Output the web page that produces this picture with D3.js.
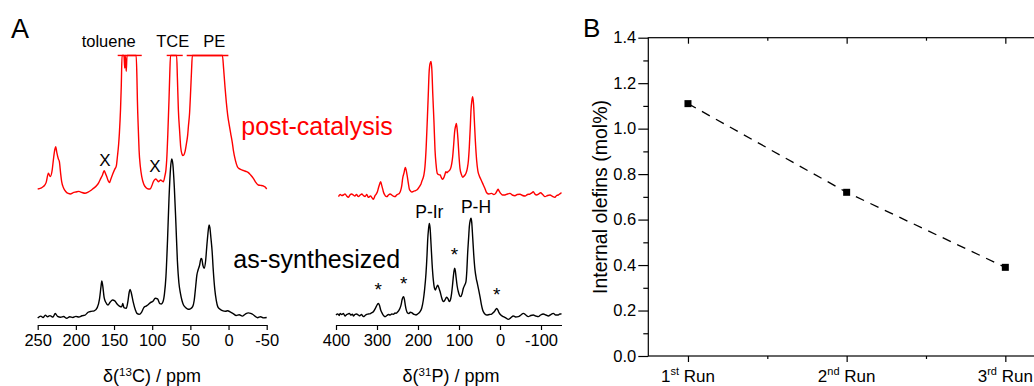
<!DOCTYPE html>
<html>
<head>
<meta charset="utf-8">
<script src="https://cdn.jsdelivr.net/npm/d3@7/dist/d3.min.js"></script>
<style>
  body { margin: 0; background: #fff; }
  svg { display: block; }
  text { font-family: "Liberation Sans", Arial, sans-serif; fill: #000; }
</style>
</head>
<body>
<svg id="chart" width="1034" height="386"></svg>
<script>
// ---- data: [ppm, intensity] ----
const c13AsSynth = [
  [250,0],[246,1.2],[243,0.3],[240,1.8],[237,0.8],[234,1.5],[230,0.6],[227,2.8],[224,1.0],[220,0.5],
  [216,0.9],[212,-0.2],[208,0.8],[204,0.3],[200,1.0],[196,0.6],[192,1.4],[188,1.8],[184,3.6],[180,4.2],
  [176,4.5],[172,6.5],[169,12],[167,20],[166,23.3],[165,21],[163,13],[161,10],[158,8.2],[155,10],
  [152,11.3],[149,10.8],[146,8.8],[143,7.5],[140,7],[138.5,9.2],[137,6.5],[134,6.1],[132,10],[130,16.5],
  [129,18],[127.5,16],[125,10.3],[122,5],[120,2.9],[117,2.3],[114,3.5],[111,6.5],[108,7.5],[105,8.5],
  [102,9.8],[99,10.5],[96,12.4],[93,12],[90,9],[88,8.8],[86,10],[84,15],[82,26],[80,48],
  [78,75],[76,94],[74.5,100],[73,97],[71,82],[69,60],[67,36],[65,22],[63,15.5],[61,11],
  [59,8.2],[56,6.5],[53,5.5],[50,5.8],[47,7.1],[45,11],[43,20],[41.5,27],[40,30],[38,33],
  [36,37.5],[35,37],[33.5,33],[32,31.2],[30,36],[28.5,45],[27,53],[25.5,58.5],[24.5,57],[23,50],
  [21.5,42],[20,30],[18,18],[16,11],[14,7],[11,5.5],[8,4.6],[4,4.2],[1,4.6],[-2,3.8],
  [-6,2.8],[-10,1.6],[-14,2.0],[-18,1.2],[-22,2.5],[-26,3.2],[-29,2.9],[-32,2.2],[-35,1.0],[-38,0.2],
  [-42,0.8],[-46,0.1],[-50,0.3]
];

const c13PostCat = [
  [250,0],[246,0.5],[242.6,1.5],[239,4],[236,9.9],[233.5,7.8],[231,12],[229.5,18.2],[227.5,25],[226.4,26.6],
  [225,23],[223,19],[221.6,17.2],[220,10],[218.6,4.6],[216,0.5],[213,-1.7],[210,-2.8],[207,-3.1],[204,-2.4],
  [200,-1.9],[196,-1.5],[192,-2.2],[188,-2.7],[184,-2.0],[180,-0.8],[177,0.4],[173,2],[170,4],[167.5,6.5],
  [165,9],[163,11.5],[161,9.5],[159.6,7.8],[157.5,5],[156,4],[154,6.5],[151.7,9.4],[149,12.5],[147,14.5],
  [145.6,20.3],[144,28],[143,35],[141.5,50],[140.5,65],[139.5,84],[137,84],[136,76],[135.3,84],[134,74],
  [133,84],[121,84],[120,70],[119.4,56],[118,35],[117.2,24.5],[115.5,14],[113.7,7.8],[111,3],[108,0.8],
  [105,0],[102.8,0],[100.5,2],[98.5,4.6],[96.5,6],[95.4,6.3],[93.5,5.5],[92,4.6],[90,5.3],[89,5.7],
  [87,5],[85.4,4.6],[83.5,8],[82,12],[81,18.2],[79.5,35],[78,56],[77,72],[76,84],[68,84],
  [67,70],[65.7,49.7],[64,36],[62.7,26.6],[61,22],[60,21],[58.5,21.5],[57,23.5],[55,29],[53.5,34],
  [52.6,39.2],[51,48],[49.6,62],[48.5,74],[47.4,84],[8,84],[6.5,76],[4.6,64],[3,55],[1.1,46.5],
  [-1,40],[-2.8,35],[-5,29],[-6.3,24.5],[-9,18],[-11.6,14],[-14,12.8],[-17.2,12],[-20,11.5],[-23,11],
  [-26,10.3],[-29,8.8],[-32.5,6.7],[-36,4],[-39,2.5],[-42,2.3],[-45.6,1.9],[-48,1.2],[-50,0]
];

const p31AsSynth = [
  [400,0],[396,1.2],[392,-0.5],[390,1.7],[386,0.5],[382,1.5],[378,-1],[374,0.5],[370,1.2],[367.5,1.7],
  [364,0],[360,0.8],[357.7,-1],[354,0.5],[350,1],[345.5,0],[342,-0.8],[338,0.5],[333,-1.7],[329,-0.5],
  [325,0.7],[321,1],[316,1.5],[312,2.5],[309,3.4],[305,6],[302,8.6],[299,11],[296.7,12],[294,10],
  [291,5.2],[287,1.5],[283,-1],[280.5,-1.7],[276,-0.5],[272,0.5],[268,0],[264,1],[260,0.8],[256,2],
  [253.7,1.7],[250,3],[247,4.5],[244,6.9],[241,11],[239,15.5],[236.5,18.5],[235,19],[233,16],[231,10.3],
  [228.5,5],[226,2.4],[222,1.5],[219,2.8],[215.4,2.4],[211,1],[208,0.5],[205,0],[201,1],[198,2],
  [195,3.4],[191,7],[187,15.5],[184,26],[180.5,43],[178,62],[176.4,77.6],[174.5,88],[172.4,94.8],[170.5,90],
  [168.3,74],[165.5,52],[162.6,36],[160,28],[157.7,25.9],[155,28.5],[152,30.7],[149,28],[146,24],[143,19],
  [140,15],[138,13.8],[135,15],[132.5,17],[130,18.3],[127,17],[123.6,13.8],[121,15.5],[118,22.4],[116,30],
  [113.8,39.7],[112,46],[110.6,48.3],[109,46],[107.3,39.7],[104.5,30],[101.6,24],[99,20.5],[96,19],[92.5,22],
  [89.4,27.6],[86,31],[83,34.5],[81,45],[78.9,63.8],[76.5,80],[74.8,91.4],[72.5,98],[70.7,100],[69,96],
  [66.7,81],[64,62],[61,46.6],[58,38],[55.3,32.8],[52,26],[48.8,19],[45.5,11],[42.3,5.2],[38,1.5],
  [32.5,0],[26,0.5],[20.3,1],[16,2.5],[12.2,4.5],[8.1,6.9],[5,5],[2.4,2.4],[-2,0],[-8.1,-1.7],
  [-14,-3],[-20.3,-4.5],[-26,-3],[-32.5,-1],[-38,-2],[-44.7,-1.7],[-51,0],[-57,1.7],[-63,0],[-69,-1.7],
  [-75,-0.5],[-81.3,0],[-87,-1],[-93.5,-1.7],[-99,0],[-105.7,1],[-112,0],[-118,-1],[-124,0.5],[-130,1.7],
  [-136,0],[-142,0],[-146,1.2],[-150,1]
];

const p31PostCat = [
  [394,-1.7],[390,0.5],[386,-0.5],[382,0],[378,1.2],[374,-1],[370,-2.4],[366,0],[362,1],[357.7,0],
  [354,-1],[350,0.5],[345.5,-1.7],[341,0],[337,1],[333,-0.7],[329,-1.5],[325,0.5],[321,-2.4],[316,-1],
  [312,-3],[309,-4.5],[305,-1],[302,1],[299,3.4],[296,8],[293,12],[291,13.8],[288.5,10],[286,6],
  [284.5,3.4],[281,0],[278,-1.5],[276,-1.7],[272,0],[268,1],[264,0],[260,-1.2],[256,-1.7],[252,0],
  [248,1],[245.5,1.7],[242,5],[239.5,10],[237.4,17.2],[234,23],[231,28.6],[229,26],[226,19],[223.5,12],
  [221,5.9],[218,4],[215,3],[213,3.4],[210,4],[206,4.5],[203,5.2],[200,6.5],[196,9],[193,11],
  [191,13.8],[188,17],[185.5,21],[183,29.3],[180,50],[177,81],[175,103],[173,126],[170.5,136],[168,138],
  [166,128],[164,105],[161,75],[158.5,46.6],[156,32],[153,22.4],[149.5,21],[146,20.7],[143,18],[140,16.2],
  [137,18],[134.5,21],[132,24],[129,23],[126,24.5],[123.6,25.2],[120,28],[117.5,33],[115.4,39.7],[113,52],
  [110.6,65.5],[108.5,71],[106.5,74],[104.5,68],[102.4,57],[100,40],[97.6,27.6],[94,21],[91,18.3],[88,19.5],
  [85.4,20.7],[82.5,23],[79.7,27.6],[77,36],[74.8,50],[72.5,70],[70.7,88],[68.5,98],[66.7,101.7],[64.5,94],
  [62.6,77.6],[60,55],[57,36],[54,25],[50.4,19.7],[46.5,16],[42.3,12],[37,7],[32.5,2.4],[27,1],
  [20.3,1.7],[15,0.5],[10.6,1.7],[7.5,4],[4.9,5.9],[2,4],[-1.6,1.7],[-6,0],[-12,0],[-18,1],
  [-24.4,1.7],[-30,0],[-36.6,-0.7],[-42,0.5],[-48.8,0.7],[-55,-0.5],[-61,-1],[-67,0.5],[-73,1],[-77,2],
  [-81.3,3.4],[-85,1],[-89.4,0],[-94,1],[-99,2.4],[-104,0.5],[-109.8,-1.7],[-116,-0.5],[-122,0],[-128,-1.5],
  [-134,-2.4],[-138,-0.5],[-142,0],[-146,1.2],[-150,2.4]
];

// clipped (off-scale) regions of the post-catalysis 13C trace
const c13ClipLabels = ["toluene", "TCE", "PE"];
const c13ClipRanges = [[145.2, 113.7], [81, 60], [54.8, 0.2]];
const c13ClipLevel = 84;

const c13Ticks = [250, 200, 150, 100, 50, 0, -50];
const p31Ticks = [400, 300, 200, 100, 0, -100];

// spinning sidebands (*) on the as-synthesized 31P trace
const p31Sidebands = [[297, 12], [235, 19], [111, 48.3], [8, 6.9]];
const p31PeakLabels = ["P-Ir", "P-H"];
const p31PeakPos = [[172.4, 94.8], [70.7, 100]];

// panel B
const runNums = ["1", "2", "3"];
const runSuffix = ["st", "nd", "rd"];
const olefins = [1.11, 0.72, 0.39];
const olefinTicks = [0, 0.2, 0.4, 0.6, 0.8, 1.0, 1.2, 1.4];

const FONT = '"Liberation Sans", Arial, sans-serif';
const svg = d3.select("#chart");

// ---------- panel A, 13C ----------
const xC = d3.scaleLinear().domain([250, -50]).range([37.7, 266.7]);
const yCAs = d3.scaleLinear().domain([0, 100]).range([318, 159]);
const yCPost = d3.scaleLinear().domain([0, 100]).range([189, 30]);

// ---------- panel A, 31P ----------
const xP = d3.scaleLinear().domain([400, -150]).range([336, 561.5]);
const yPAs = d3.scaleLinear().domain([0, 100]).range([315, 218.3]);
const yPPost = d3.scaleLinear().domain([0, 100]).range([195, 98.3]);

function trace(data, x, y, color) {
  const line = d3.line()
    .x(d => x(d[0]))
    .y(d => y(d[1]))
    .curve(d3.curveMonotoneX);
  svg.append("path")
    .datum(data)
    .attr("d", line)
    .attr("fill", "none")
    .attr("stroke", color)
    .attr("stroke-width", 1.4)
    .attr("stroke-linejoin", "round");
}

trace(c13PostCat, xC, yCPost, "#ff0000");
trace(c13AsSynth, xC, yCAs, "#000");
trace(p31PostCat, xP, yPPost, "#ff0000");
trace(p31AsSynth, xP, yPAs, "#000");

// clip bars + labels
c13ClipRanges.forEach(r => {
  svg.append("line")
    .attr("x1", xC(r[0])).attr("x2", xC(r[1]))
    .attr("y1", yCPost(c13ClipLevel)).attr("y2", yCPost(c13ClipLevel))
    .attr("stroke", "#ff0000").attr("stroke-width", 1.4);
});
const clipLabelX = [108.7, 172.7, 214.3];
c13ClipLabels.forEach((lab, i) => {
  svg.append("text").attr("x", clipLabelX[i]).attr("y", 47).attr("text-anchor", "middle")
    .style("font-size", "16.5px").text(lab);
});

// X marks on impurity peaks
svg.append("text").attr("x", 105).attr("y", 166).attr("text-anchor", "middle")
  .style("font-size", "17px").text("X");
svg.append("text").attr("x", 155).attr("y", 171.5).attr("text-anchor", "middle")
  .style("font-size", "17px").text("X");

// trace labels
svg.append("text").attr("x", 317).attr("y", 135).attr("text-anchor", "middle")
  .style("font-size", "25px").style("fill", "#ff0000").text("post-catalysis");
svg.append("text").attr("x", 316.7).attr("y", 268).attr("text-anchor", "middle")
  .style("font-size", "25px").text("as-synthesized");

// sidebands
svg.selectAll(".sb")
  .data(p31Sidebands)
  .enter()
  .append("text")
  .attr("class", "sb")
  .attr("x", d => xP(d[0]))
  .attr("y", d => yPAs(d[1]) - 7)
  .attr("text-anchor", "middle")
  .style("font-size", "19px")
  .text("*");

svg.selectAll(".pk")
  .data(p31PeakLabels)
  .enter()
  .append("text")
  .attr("class", "pk")
  .attr("x", (d, i) => xP(p31PeakPos[i][0]) + (i === 0 ? 0 : 5))
  .attr("y", (d, i) => yPAs(p31PeakPos[i][1]) - 5)
  .attr("text-anchor", "middle")
  .style("font-size", "17.5px")
  .text(d => d);

// ppm axes
function ppmAxis(x, ticks, y) {
  const g = svg.append("g")
    .attr("transform", `translate(0,${y})`)
    .call(d3.axisBottom(x).tickValues(ticks).tickSize(5).tickSizeOuter(0).tickPadding(4)
      .tickFormat(d => String(d)));
  g.select(".domain").attr("stroke-width", 1.2);
  g.selectAll(".tick line").attr("stroke-width", 1.2);
  g.selectAll(".tick text").style("font-size", "16.5px").style("font-family", FONT);
  return g;
}
ppmAxis(xC, c13Ticks, 325);
ppmAxis(xP, p31Ticks, 325);

function ppmTitle(cx, nucleus, sup) {
  const t = svg.append("text").attr("x", cx).attr("y", 382).attr("text-anchor", "middle")
    .style("font-size", "18px");
  t.append("tspan").text("\u03B4(");
  t.append("tspan").attr("dy", -6).style("font-size", "11.5px").text(sup);
  t.append("tspan").attr("dy", 6).text(nucleus + ") / ppm");
}
ppmTitle(152, "C", "13");
ppmTitle(451, "P", "31");

svg.append("text").attr("x", 11).attr("y", 38).style("font-size", "27px").text("A");

// ---------- panel B ----------
const xB = d3.scaleLinear().domain([0.75, 3.25]).range([648.3, 1045]);
const yB = d3.scaleLinear().domain([0, 1.4]).range([356, 37.7]);
const runIdx = [1, 2, 3];

svg.append("text").attr("x", 583).attr("y", 37).style("font-size", "26px").text("B");

// frame
svg.append("rect")
  .attr("x", xB(0.75)).attr("y", yB(1.4))
  .attr("width", xB(3.25) - xB(0.75)).attr("height", yB(0) - yB(1.4))
  .attr("fill", "none").attr("stroke", "#000").attr("stroke-width", 1.2);

const yAxis = svg.append("g").attr("transform", `translate(${xB(0.75)},0)`)
  .call(d3.axisLeft(yB).tickValues(olefinTicks).tickSize(10).tickSizeOuter(0).tickPadding(2)
    .tickFormat(d3.format(".1f")));
yAxis.select(".domain").remove();
yAxis.selectAll(".tick text").style("font-size", "16.5px").style("font-family", FONT);

svg.append("g").attr("transform", `translate(${xB(0.75)},0)`)
  .call(d3.axisLeft(yB).tickValues([0.1, 0.3, 0.5, 0.7, 0.9, 1.1, 1.3]).tickSize(5).tickFormat(""))
  .select(".domain").remove();

svg.append("g").attr("transform", `translate(0,${yB(0)})`)
  .call(d3.axisBottom(xB).tickValues(runIdx).tickSize(6).tickFormat(""))
  .select(".domain").remove();
svg.append("g").attr("transform", `translate(0,${yB(0)})`)
  .call(d3.axisBottom(xB).tickValues([1.5, 2.5]).tickSize(3).tickFormat(""))
  .select(".domain").remove();

// top mirror ticks pointing inward
svg.append("g").attr("transform", `translate(0,${yB(1.4)})`)
  .call(d3.axisBottom(xB).tickValues(runIdx).tickSize(6).tickFormat(""))
  .select(".domain").remove();
svg.append("g").attr("transform", `translate(0,${yB(1.4)})`)
  .call(d3.axisBottom(xB).tickValues([1.5, 2.5]).tickSize(3).tickFormat(""))
  .select(".domain").remove();

svg.selectAll(".tick line").attr("stroke-width", 1.2);

// run labels with superscripts
runIdx.forEach((r, i) => {
  const t = svg.append("text").attr("x", xB(r)).attr("y", 382).attr("text-anchor", "middle")
    .style("font-size", "17px");
  t.append("tspan").text(runNums[i]);
  t.append("tspan").attr("dy", -7).style("font-size", "11px").text(runSuffix[i]);
  t.append("tspan").attr("dy", 7).text(" Run");
});

svg.append("text")
  .attr("transform", `translate(607,197) rotate(-90)`)
  .attr("text-anchor", "middle")
  .style("font-size", "19.5px")
  .text("Internal olefins (mol%)");

// dashed line + square markers
svg.append("path")
  .datum(olefins)
  .attr("d", d3.line().x((d, i) => xB(runIdx[i])).y(d => yB(d)))
  .attr("fill", "none")
  .attr("stroke", "#000")
  .attr("stroke-width", 1.3)
  .attr("stroke-dasharray", "9,7");

svg.selectAll(".pt")
  .data(olefins)
  .enter()
  .append("rect")
  .attr("class", "pt")
  .attr("x", (d, i) => xB(runIdx[i]) - 3.5)
  .attr("y", d => yB(d) - 3.5)
  .attr("width", 7)
  .attr("height", 7)
  .attr("fill", "#000");
</script>
</body>
</html>
